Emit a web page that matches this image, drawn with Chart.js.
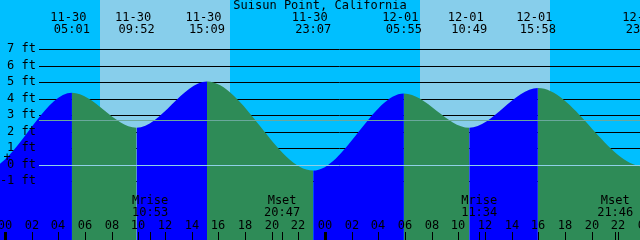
<!DOCTYPE html>
<html>
<head>
<meta charset="utf-8">
<title>Suisun Point, California</title>
<script src="https://cdn.jsdelivr.net/npm/chart.js@4.4.1/dist/chart.umd.min.js"></script>
<style>
  html, body { margin: 0; padding: 0; background: #00bfff; }
  canvas { display: block; }
</style>
</head>
<body>
<canvas id="tideChart" width="640" height="240"></canvas>
<script>
const stationName = 'Suisun Point, California';

// tide highs and lows; first two and last one are off screen, they only shape the curve ends
const tideDates = ['11-29', '11-29', '11-30', '11-30', '11-30', '11-30', '12-01', '12-01', '12-01', '12-01', '12-02'];
const tideTimes = ['16:20', '22:30', '05:01', '09:52', '15:09', '23:07', '05:55', '10:49', '15:58', '23:55', '06:45'];
const tideHeights = [4.8, -0.3, 4.37, 2.25, 5.05, -0.35, 4.33, 2.25, 4.65, -0.1, 4.2];

const sunDates = ['11-30', '12-01'];
const sunriseTimes = ['07:07', '07:08'];
const sunsetTimes = ['16:52', '16:52'];

const moonDates = ['11-30', '11-30', '12-01', '12-01'];
const moonEvents = ['Mrise', 'Mset', 'Mrise', 'Mset'];
const moonTimes = ['10:53', '20:47', '11:34', '21:46'];

const heightTicks = [-1, 0, 1, 2, 3, 4, 5, 6, 7];
const hourTicks = [0, 2, 4, 6, 8, 10, 12, 14, 16, 18, 20, 22, 24, 26, 28, 30, 32, 34, 36, 38, 40, 42, 44, 46, 48];
const datumLevel = 0;
const mslLevel = 2.7;

const dayOffset = { '11-29': -24, '11-30': 0, '12-01': 24, '12-02': 48 };

const nightColor = '#00bfff';
const dayColor = '#87ceeb';
const floodColor = '#0000ff';
const ebbColor = '#2e8b57';
const font = '12px "DejaVu Sans Mono", "Liberation Mono", monospace';

function toHours(date, time) {
    const [h, m] = time.split(':').map(Number);
    return dayOffset[date] + h + m / 60;
}

const tideHours = tideTimes.map((t, i) => toHours(tideDates[i], t));

const tidePlugin = {
    id: 'tideDecor',
    beforeDatasetsDraw(chart) {
        const { ctx, scales: { x, y } } = chart;
        const w = chart.width, h = chart.height;
        ctx.save();
        ctx.fillStyle = nightColor;
        ctx.fillRect(0, 0, w, h);

        // daylight bands
        ctx.fillStyle = dayColor;
        sunDates.forEach((d, i) => {
            const x0 = Math.round(x.getPixelForValue(toHours(d, sunriseTimes[i])));
            const x1 = Math.round(x.getPixelForValue(toHours(d, sunsetTimes[i])));
            ctx.fillRect(x0, 0, x1 - x0, h);
        });

        // feet grid, sits behind the water
        ctx.strokeStyle = '#000';
        ctx.lineWidth = 1;
        heightTicks.forEach(v => {
            const py = Math.round(y.getPixelForValue(v)) + 0.5;
            ctx.beginPath();
            ctx.moveTo(39, py);
            ctx.lineTo(w, py);
            ctx.stroke();
        });
        ctx.restore();
    },
    afterDatasetsDraw(chart) {
        const { ctx, scales: { x, y } } = chart;
        const w = chart.width, h = chart.height;
        ctx.save();

        // datum and mean sea level lines on top of the water
        let py = Math.round(y.getPixelForValue(datumLevel)) + 0.5;
        ctx.strokeStyle = '#8fd0e8';
        ctx.beginPath(); ctx.moveTo(39, py); ctx.lineTo(w, py); ctx.stroke();
        py = Math.round(y.getPixelForValue(mslLevel)) + 0.5;
        ctx.strokeStyle = '#6aa89c';
        ctx.beginPath(); ctx.moveTo(39, py); ctx.lineTo(w, py); ctx.stroke();

        ctx.fillStyle = '#000';
        ctx.font = font;
        ctx.textBaseline = 'middle';

        // feet labels
        ctx.textAlign = 'right';
        heightTicks.forEach(v => {
            ctx.fillText(v + ' ft', 36, Math.round(y.getPixelForValue(v)));
        });
        ctx.textAlign = 'center';
        ctx.fillText('+', 7, 158);

        // title
        ctx.fillText(stationName, w / 2, 6);

        // high / low times
        tideHours.forEach((hr, i) => {
            if (hr < x.min) return;
            const px = x.getPixelForValue(hr);
            ctx.fillText(tideDates[i], px - 3.5, 18);
            ctx.fillText(tideTimes[i], px, 30);
        });

        // moon rise / set
        moonEvents.forEach((ev, i) => {
            const px = x.getPixelForValue(toHours(moonDates[i], moonTimes[i]));
            ctx.fillText(ev, px, 201);
            ctx.fillText(moonTimes[i], px, 213);
            ctx.fillRect(Math.round(px), 232, 1, 8);
        });

        // hour axis
        hourTicks.forEach(hr => {
            const px = Math.round(x.getPixelForValue(hr));
            const label = String(hr % 24).padStart(2, '0');
            ctx.fillText(label, px, 226);
            if (hr % 24 === 0) {
                ctx.fillRect(px - 1, 232, 3, 8);
            } else {
                ctx.fillRect(px, 232, 1, 8);
            }
        });
        ctx.restore();
    }
};

new Chart(document.getElementById('tideChart'), {
    type: 'line',
    data: {
        datasets: [{
            data: tideHours.map((hr, i) => ({ x: hr, y: tideHeights[i] })),
            fill: 'start',
            backgroundColor: floodColor,
            borderColor: 'transparent',
            borderWidth: 0,
            pointRadius: 0,
            cubicInterpolationMode: 'monotone',
            segment: {
                backgroundColor: c => c.p1.parsed.y > c.p0.parsed.y ? floodColor : ebbColor
            }
        }]
    },
    options: {
        responsive: false,
        animation: false,
        devicePixelRatio: 1,
        layout: { padding: 0 },
        elements: { line: { capBezierPoints: false } },
        plugins: {
            legend: { display: false },
            tooltip: { enabled: false }
        },
        scales: {
            x: { type: 'linear', min: -0.375, max: 47.625, display: false },
            y: { min: -4.555, max: 9.99, display: false }
        }
    },
    plugins: [tidePlugin]
});
</script>
</body>
</html>
